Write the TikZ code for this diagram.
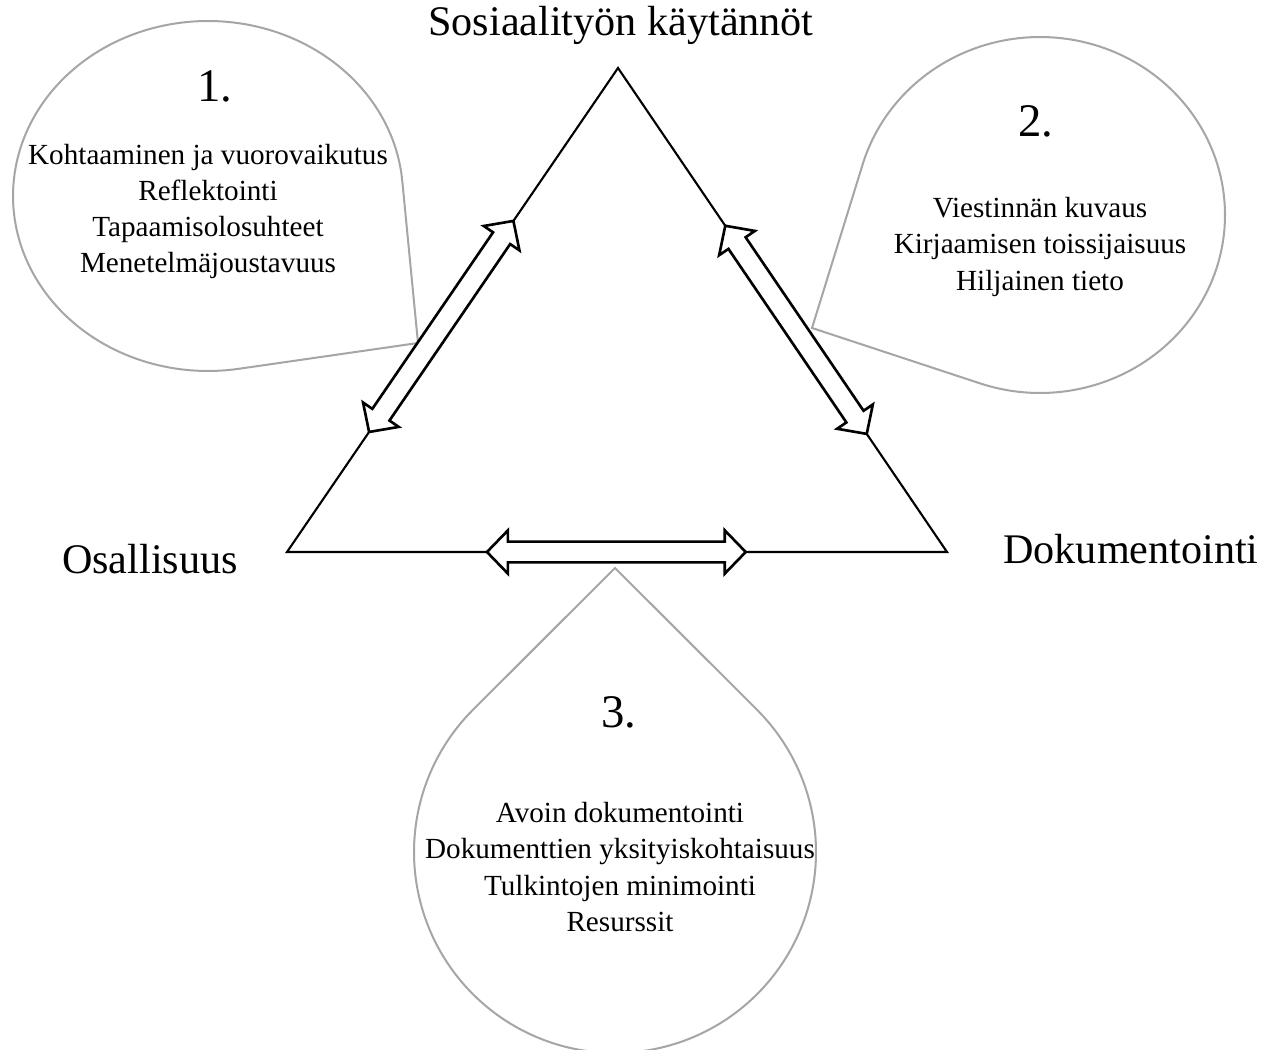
\documentclass[tikz,border=0pt]{standalone}
\usepackage{fontspec}
\setmainfont{Liberation Serif}
\usetikzlibrary{calc}
\definecolor{bubblegray}{RGB}{166,166,166}
\newcommand\blockarr[2]{%
  \coordinate (ba-p) at ($(#1)!11.9pt!(#2)$);
  \coordinate (ba-q) at ($(#2)!11.9pt!(#1)$);
  \filldraw[blockarrow] (#1)
    -- ($(ba-p)!12.3pt!90:(#2)$) -- ($(ba-p)!5.9pt!90:(#2)$)
    -- ($(ba-q)!5.9pt!-90:(#1)$) -- ($(ba-q)!12.3pt!-90:(#1)$)
    -- (#2)
    -- ($(ba-q)!12.3pt!90:(#1)$) -- ($(ba-q)!5.9pt!90:(#1)$)
    -- ($(ba-p)!5.9pt!-90:(#2)$) -- ($(ba-p)!12.3pt!-90:(#2)$)
    -- cycle;}
\begin{document}
\begin{tikzpicture}[x=0.02cm,y=-0.02cm,
  tri/.style={draw=black,line width=1.2pt,line join=miter},
  blockarrow/.style={draw=black,fill=white,line width=1.5pt,line join=miter},
  bubble/.style={draw=bubblegray,line width=1.15pt,line join=miter},
  biglabel/.style={font=\fontsize{24}{28}\selectfont,inner sep=0pt,anchor=base},
  numlabel/.style={font=\fontsize{26.6}{30}\selectfont,inner sep=0pt,anchor=base},
  itemtext/.style={font=\fontsize{16.6}{20}\selectfont,inner sep=0pt,anchor=base}]
\useasboundingbox (0,0) rectangle (1273,1050);
% triangle
\coordinate (apex) at (618,68);
\coordinate (bl) at (287,552);
\coordinate (br) at (947,552);
\draw[tri] (apex) -- (bl) -- (br) -- cycle;
% bubbles
\coordinate (tip1) at (418,343);
\coordinate (tip2) at (812,328);
\coordinate (tip3) at (615,568);
\draw[bubble] (tip1) -- plot[domain=80.8:355,samples=160] ({208+195*cos(\x)},{196+175*sin(\x)}) -- cycle;
\draw[bubble] (tip2) -- plot[domain=196.45:468.55,samples=160] ({1040+185*cos(\x)},{215+178*sin(\x)}) -- cycle;
\draw[bubble] (tip3) -- plot[domain=-45:225,samples=160] ({615+201*cos(\x)},{852+201*sin(\x)}) -- cycle;
% block arrows
\coordinate (la) at ($(apex)!0.316!(bl)$);
\coordinate (lb) at ($(apex)!0.752!(bl)$);
\coordinate (ra) at ($(apex)!0.326!(br)$);
\coordinate (rb) at ($(apex)!0.756!(br)$);
\coordinate (ha) at ($(bl)!0.303!(br)$);
\coordinate (hb) at ($(bl)!0.695!(br)$);
\blockarr{la}{lb}
\blockarr{ra}{rb}
\blockarr{ha}{hb}
% corner labels
\node[biglabel] (sos) at (621,36) {Sosiaalityön käytännöt};
\node[biglabel] (osa) at (150,573) {Osallisuus};
\node[biglabel] (dok) at (1131,563) {Dokumentointi};
% bubble 1
\node[numlabel] (n1) at (215,102) {1.};
\node[itemtext] (b1a) at (208,165) {Kohtaaminen ja vuorovaikutus};
\node[itemtext] (b1b) at (208,201) {Reflektointi};
\node[itemtext] (b1c) at (208,237) {Tapaamisolosuhteet};
\node[itemtext] (b1d) at (208,273) {Menetelmäjoustavuus};
% bubble 2
\node[numlabel] (n2) at (1036,137) {2.};
\node[itemtext] (b2a) at (1040,218) {Viestinnän kuvaus};
\node[itemtext] (b2b) at (1040,254) {Kirjaamisen toissijaisuus};
\node[itemtext] (b2c) at (1040,291) {Hiljainen tieto};
% bubble 3
\node[numlabel] (n3) at (619,727) {3.};
\node[itemtext] (b3a) at (620,822) {Avoin dokumentointi};
\node[itemtext] (b3b) at (620,858) {Dokumenttien yksityiskohtaisuus};
\node[itemtext] (b3c) at (620,895) {Tulkintojen minimointi};
\node[itemtext] (b3d) at (620,931) {Resurssit};
\end{tikzpicture}
\end{document}
